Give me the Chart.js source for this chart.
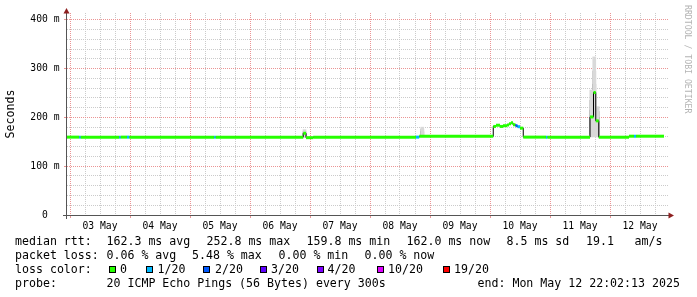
<!DOCTYPE html>
<html lang="en">
<head>
<meta charset="UTF-8" />
<title>SmokePing - median rtt</title>
<script src="https://cdn.jsdelivr.net/npm/chart.js"></script>
<style>
  html, body { margin: 0; padding: 0; background: #fff; }
  #wrap { position: relative; width: 697px; height: 297px; overflow: hidden; font-family: "DejaVu Sans Mono", monospace; color: #000; }
  #chart { position: absolute; left: 0; top: 0; }
  .t { position: absolute; font-size: 11.6px; line-height: 14px; white-space: pre; }
  .box { position: absolute; width: 5px; height: 5px; border: 1px solid #000; top: 266px; }
  #mark { position: absolute; left: 683px; top: 5px; font-size: 8.2px; line-height: 10px; color: #b4b4b4; writing-mode: vertical-rl; white-space: pre; }
</style>
</head>
<body>
<div id="wrap">
  <canvas id="chart" width="697" height="297"></canvas>
  <div id="mark">RRDTOOL / TOBI OETIKER</div>

  <div class="t" style="left:15px;top:234px">median rtt:</div>
  <div class="t" style="left:106.5px;top:234px">162.3 ms avg</div>
  <div class="t" style="left:206.5px;top:234px">252.8 ms max</div>
  <div class="t" style="left:306.5px;top:234px">159.8 ms min</div>
  <div class="t" style="left:406.5px;top:234px">162.0 ms now</div>
  <div class="t" style="left:506.5px;top:234px">8.5 ms sd</div>
  <div class="t" style="left:586px;top:234px">19.1</div>
  <div class="t" style="left:634.5px;top:234px">am/s</div>

  <div class="t" style="left:15px;top:248px">packet loss:</div>
  <div class="t" style="left:106.5px;top:248px">0.06 % avg</div>
  <div class="t" style="left:192px;top:248px">5.48 % max</div>
  <div class="t" style="left:278.5px;top:248px">0.00 % min</div>
  <div class="t" style="left:364.5px;top:248px">0.00 % now</div>

  <div class="t" style="left:15px;top:262px">loss color:</div>
  <span class="box" style="left:109px;background:#26ff00"></span><div class="t" style="left:120px;top:262px">0</div>
  <span class="box" style="left:146px;background:#00b8ff"></span><div class="t" style="left:157.5px;top:262px">1/20</div>
  <span class="box" style="left:203px;background:#0059ff"></span><div class="t" style="left:215px;top:262px">2/20</div>
  <span class="box" style="left:260px;background:#5e00ff"></span><div class="t" style="left:271px;top:262px">3/20</div>
  <span class="box" style="left:316.5px;background:#7e00ff"></span><div class="t" style="left:327.5px;top:262px">4/20</div>
  <span class="box" style="left:376.5px;background:#dd00ff"></span><div class="t" style="left:388px;top:262px">10/20</div>
  <span class="box" style="left:442.5px;background:#ff0000"></span><div class="t" style="left:454px;top:262px">19/20</div>

  <div class="t" style="left:15px;top:275.5px">probe:</div>
  <div class="t" style="left:106.5px;top:275.5px">20 ICMP Echo Pings (56 Bytes) every 300s</div>
  <div class="t" style="left:477.5px;top:275.5px">end: Mon May 12 22:02:13 2025</div>
</div>

<script>
// x values are hours after 03 May 00:00
const dayLabels = ['03 May', '04 May', '05 May', '06 May', '07 May', '08 May', '09 May', '10 May', '11 May', '12 May'];
const lossColors = ['#26ff00', '#00b8ff', '#0059ff', '#5e00ff', '#7e00ff', '#dd00ff', '#ff0000'];

// median rtt steps: each value holds from its hour until the next one
const stepHours = [-1.3, 3.7, 4.3, 19.7, 20.3, 22.8, 23.7, 57.7, 58.3, 93.3, 94.4, 97.3,
  138.4, 139.7, 169.3, 170.4, 172.0, 173.2, 174.8, 175.6, 176.4, 177.2, 178.2, 179.0, 180.0, 181.3,
  190.4, 191.0, 208.0, 209.4, 210.3, 211.5, 223.6, 225.6, 226.4, 237.6];
const medianMs = [159.6, 159.6, 159.6, 159.6, 159.6, 159.6, 159.6, 159.6, 159.6, 167.5, 158.5, 159.6,
  159.6, 161.3, 181.5, 184.0, 181.5, 183.0, 184.5, 187.0, 189.0, 185.0, 183.0, 181.0, 178.0, 159.6,
  159.6, 159.6, 201.0, 251.0, 193.0, 159.4, 161.5, 161.5, 161.5, 161.5];
const lossPings = [0, 1, 0, 1, 0, 1, 0, 1, 0, 0, 0, 0,
  1, 0, 0, 0, 0, 0, 0, 0, 0, 0, 2, 1, 0, 0,
  1, 0, 0, 0, 0, 0, 0, 1, 0, 0];

// smoke (spread of the single pings) around the median
const smokeHours = [93.8, 140.9, 208.5, 209.7, 211.1];
const smokeOuter = [[159, 175], [161, 180], [160, 256], [160, 324], [160, 222]];
const smokeMid = [[160, 171], [162, 176], [163, 235], [166, 295], [161, 212]];
const smokeCore = [[161, 168], [163, 171], [166, 215], [180, 268], [163, 200]];

const yTicks = [];
for (let v = 0; v <= 400; v += 20) yTicks.push(v);
const xTicks = [];
for (let h = 0; h <= 234; h += 6) xTicks.push(h);

const medianLine = stepHours.map((h, i) => ({ x: h, y: medianMs[i] }));
const medianBars = [];
for (let i = 0; i < stepHours.length - 1; i++) {
  medianBars.push({ x: stepHours[i], y: medianMs[i] }, { x: stepHours[i + 1], y: medianMs[i] }, { x: stepHours[i + 1], y: null });
}
const smokeSet = (ranges, color) => ({
  type: 'bar', data: smokeHours.map((h, i) => ({ x: h, y: ranges[i] })),
  backgroundColor: color, borderWidth: 0, barThickness: 3, grouped: false, order: 3
});

const MAJOR = 'rgb(235,149,149)', MINOR = '#cbcbcb', FONT = 'DejaVu Sans Mono';
const isMajor = (c, every) => !!c.tick && c.tick.value % every === 0;

const axisArrows = {
  id: 'axisArrows',
  afterDatasetsDraw(chart) {
    const { ctx, chartArea: a } = chart;
    ctx.save();
    ctx.strokeStyle = '#555';
    ctx.lineWidth = 1;
    ctx.beginPath();
    ctx.moveTo(a.left - 0.5, a.bottom + 4);
    ctx.lineTo(a.left - 0.5, a.top);
    ctx.moveTo(a.left - 4, a.bottom + 0.5);
    ctx.lineTo(a.right + 1, a.bottom + 0.5);
    ctx.stroke();
    ctx.fillStyle = '#8e2020';
    ctx.beginPath();
    ctx.moveTo(a.left - 0.5, a.top - 5);
    ctx.lineTo(a.left - 3.5, a.top + 0.5);
    ctx.lineTo(a.left + 2.5, a.top + 0.5);
    ctx.fill();
    ctx.beginPath();
    ctx.moveTo(a.right + 6, a.bottom + 0.5);
    ctx.lineTo(a.right + 0.5, a.bottom - 2.5);
    ctx.lineTo(a.right + 0.5, a.bottom + 3.5);
    ctx.fill();
    ctx.restore();
  }
};

new Chart(document.getElementById('chart'), {
  type: 'line',
  data: {
    datasets: [
      smokeSet(smokeOuter, '#d9d9d9'),
      smokeSet(smokeMid, '#a2a2a2'),
      smokeSet(smokeCore, '#606060'),
      { data: medianLine, stepped: 'before', borderColor: '#000', borderWidth: 1, pointRadius: 0, fill: false, order: 2 },
      { data: medianBars, borderWidth: 3, borderCapStyle: 'butt', pointRadius: 0, fill: false, spanGaps: false, order: 1,
        borderColor: lossColors[0],
        segment: { borderColor: c => lossColors[lossPings[Math.floor(c.p0DataIndex / 3)]] } }
    ]
  },
  options: {
    responsive: false,
    animation: false,
    devicePixelRatio: 1,
    layout: { padding: { left: 0, top: 13, right: 29, bottom: 0 } },
    plugins: { legend: { display: false }, tooltip: { enabled: false } },
    scales: {
      x: {
        type: 'linear', min: -1.2, max: 239.2, offset: false,
        afterBuildTicks: s => { s.ticks = xTicks.map(v => ({ value: v })); },
        afterFit: s => { s.height = 82; },
        grid: {
          offset: false,
          color: c => isMajor(c, 24) ? MAJOR : MINOR,
          tickColor: c => isMajor(c, 24) ? MAJOR : 'transparent',
          tickLength: 3
        },
        border: { display: false, dash: [1, 1] },
        ticks: {
          autoSkip: false, maxRotation: 0, padding: 3, color: '#000',
          font: { family: FONT, size: 9.7 },
          callback: v => v % 24 === 12 ? dayLabels[(v - 12) / 24] : ''
        }
      },
      y: {
        min: 0, max: 414,
        afterBuildTicks: s => { s.ticks = yTicks.map(v => ({ value: v })); },
        afterFit: s => { s.width = 67; },
        grid: {
          color: c => isMajor(c, 100) ? MAJOR : MINOR,
          tickColor: c => isMajor(c, 100) ? MAJOR : 'transparent',
          tickLength: 3
        },
        border: { display: false, dash: [1, 1] },
        title: { display: true, text: 'Seconds', color: '#000', font: { family: FONT, size: 11.6 }, padding: { top: 4.5, bottom: 0 } },
        ticks: {
          autoSkip: false, padding: 4.5, color: '#000',
          font: { family: FONT, size: 9.7 },
          callback: v => v % 100 === 0 ? (v === 0 ? '0  ' : v + ' m') : ''
        }
      }
    }
  },
  plugins: [axisArrows]
});
</script>
</body>
</html>
